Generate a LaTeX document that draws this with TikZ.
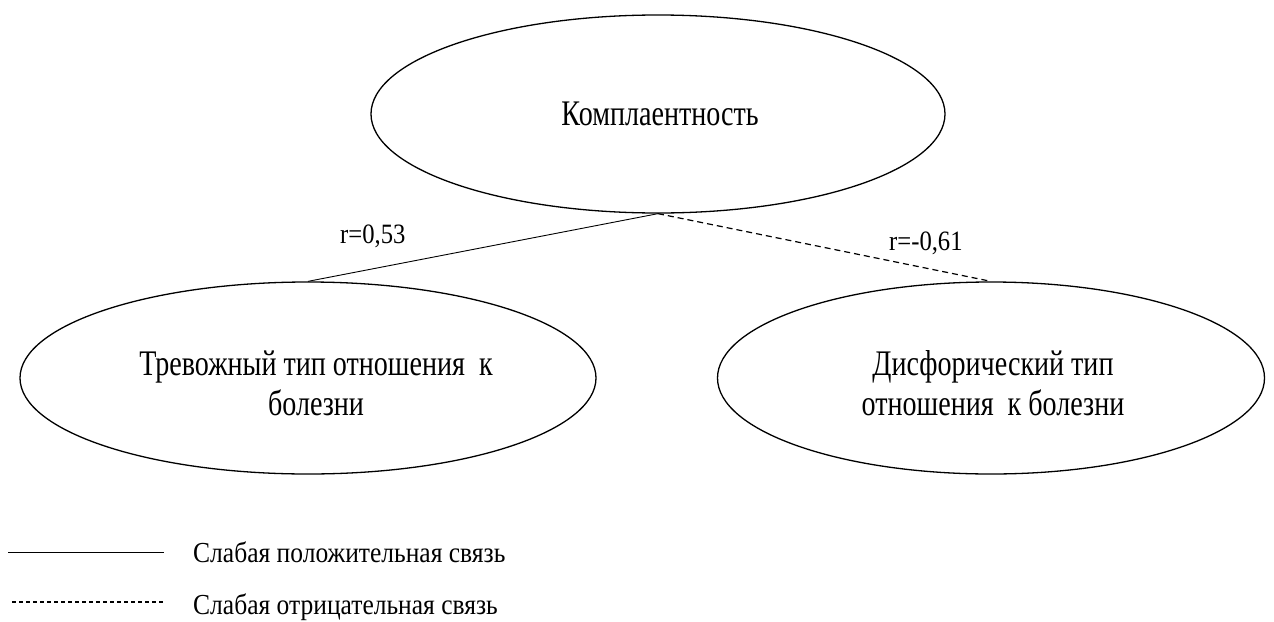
\documentclass[tikz,border=0pt]{standalone}
\usepackage{fontspec}
\setmainfont[FakeStretch=0.78]{Liberation Serif}
\newfontfamily\narrowsmall[FakeStretch=0.88]{Liberation Serif}
\usetikzlibrary{shapes.geometric}
\begin{document}
\begin{tikzpicture}[x=1pt,y=-1pt,
  oval/.style={draw, ellipse, line width=1.3pt, inner sep=0pt},
  ovaltext/.style={align=center, font=\fontsize{36}{40}\selectfont, anchor=base, inner sep=0pt},
  corr/.style={font=\narrowsmall\fontsize{28}{32}\selectfont, anchor=base west, inner sep=0pt},
  legend/.style={font=\narrowsmall\fontsize{29}{32}\selectfont, anchor=base west, inner sep=0pt},
  poslink/.style={line width=0.9pt},
  neglink/.style={line width=1.2pt, dash pattern=on 6pt off 4pt}]
\useasboundingbox (0,0) rectangle (1274,621);

% the three variables
\node[oval, minimum width=574pt, minimum height=198pt] (compl) at (658,114) {};
\node[ovaltext] (ct) at (660,125) {Комплаентность};
\node[oval, minimum width=576pt, minimum height=192pt] (anx) at (308,378) {};
\node[ovaltext] (anxt) at (316,415) {Тревожный тип отношения\ \ к\\болезни};
\node[oval, minimum width=547pt, minimum height=192pt] (dys) at (991,378) {};
\node[ovaltext] (dyst) at (993,415) {Дисфорический тип\\отношения\ \ к болезни};

% correlations
\draw[poslink] (compl.south) -- (anx.north);
\draw[neglink] (compl.south) -- (dys.north);
\node[corr] (r1) at (340,243) {r=0,53};
\node[corr] (r2) at (889,250) {r=-0,61};

% legend
\coordinate (ls1) at (8,552);
\coordinate (le1) at (164,552);
\coordinate (ls2) at (12,602);
\coordinate (le2) at (163,602);
\draw[poslink] (ls1) -- (le1);
\draw[line width=1.1pt, dash pattern=on 4pt off 3pt] (ls2) -- (le2);
\node[legend] (t1) at (193,562) {Слабая положительная связь};
\node[legend] (t2) at (193,614) {Слабая отрицательная связь};
\end{tikzpicture}
\end{document}
